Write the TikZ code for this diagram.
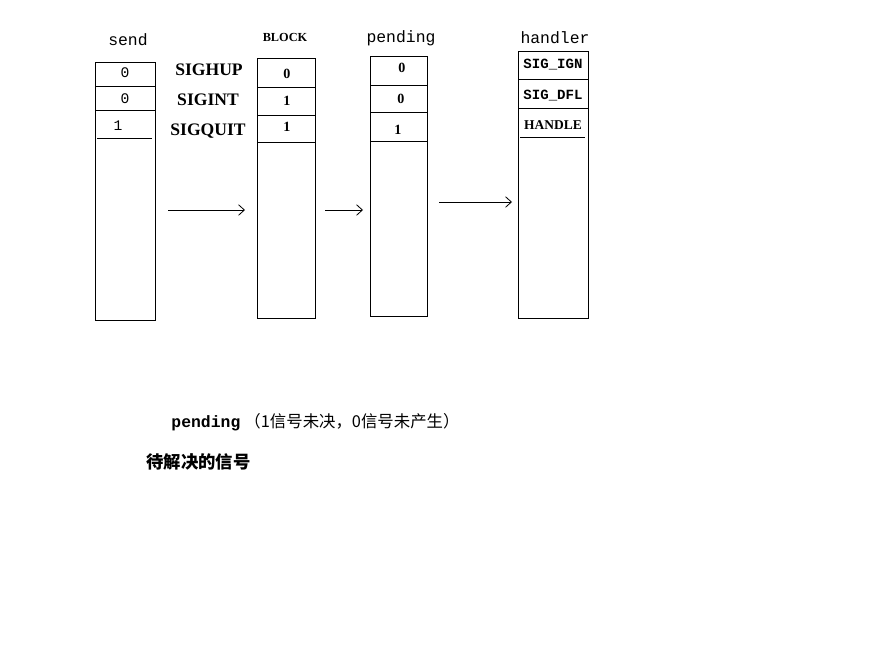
\documentclass[tikz,border=0pt]{standalone}
\usepackage{fontspec}
\setmainfont{Liberation Serif}
\setmonofont{Liberation Mono}
\newfontfamily\cjk{Noto Sans CJK SC}
\usepackage{tikz}
\usetikzlibrary{arrows.meta}
\definecolor{SigInk}{HTML}{000000}
\tikzset{
  cell/.style={inner sep=0pt,font=\ttfamily\fontsize{12.5}{13}\selectfont},
  boldcell/.style={inner sep=0pt,font=\bfseries\fontsize{12}{13}\selectfont},
  head/.style={inner sep=0pt,font=\ttfamily\fontsize{14}{15}\selectfont},
  signame/.style={inner sep=0pt,font=\bfseries\fontsize{15}{16}\selectfont},
  flow/.style={SigInk,line width=0.7pt,-{Straight Barb[length=5pt,width=9pt]}}
}

\begin{document}
\begin{tikzpicture}[x=0.03cm,y=-0.03cm,line width=0.8pt]
\path[use as bounding box] (0,0) rectangle (874,669);
% send
\node[head] (sendhead) at (128,40) {send};
\draw[SigInk] (95,62) rectangle (155,320);
\draw[SigInk] (95,86) -- (155,86);
\draw[SigInk] (95,110) -- (155,110);
\draw[SigInk] (97,138) -- (152,138);
\node[cell] (send1) at (125,73) {0};
\node[cell] (send2) at (125,99) {0};
\node[cell] (send3) at (118,126) {1};
% signal names
\node[signame] (sighup) at (209,70) {SIGHUP};
\node[signame] (sigint) at (208,100) {SIGINT};
\node[signame] (sigquit) at (208,131) {SIGQUIT};
% BLOCK
\node[boldcell,font=\bfseries\fontsize{10.5}{11}\selectfont] (blockhead) at (285,37) {BLOCK};
\draw[SigInk] (257,58) rectangle (315,318);
\draw[SigInk] (257,87) -- (315,87);
\draw[SigInk] (257,115) -- (315,115);
\draw[SigInk] (257,142) -- (315,142);
\node[boldcell] (block1) at (287,74) {0};
\node[boldcell] (block2) at (287,101) {1};
\node[boldcell] (block3) at (287,127) {1};
% pending
\node[head] (pendhead) at (401,38) {pending};
\draw[SigInk] (370,56) rectangle (427,316);
\draw[SigInk] (370,85) -- (427,85);
\draw[SigInk] (370,112) -- (427,112);
\draw[SigInk] (370,141) -- (427,141);
\node[boldcell] (pend1) at (402,68) {0};
\node[boldcell] (pend2) at (401,99) {0};
\node[boldcell] (pend3) at (398,130) {1};
% handler
\node[head] (handhead) at (555,38) {handler};
\draw[SigInk] (518,51) rectangle (588,318);
\draw[SigInk] (518,79) -- (588,79);
\draw[SigInk] (518,108) -- (588,108);
\draw[SigInk] (520,137) -- (585,137);
\node[boldcell,font=\bfseries\ttfamily\fontsize{12}{13}\selectfont] (ign) at (553,65) {SIG\_IGN};
\node[boldcell,font=\bfseries\ttfamily\fontsize{12}{13}\selectfont] (dfl) at (553,96) {SIG\_DFL};
\node[boldcell,font=\bfseries\fontsize{11.5}{12}\selectfont] (handle) at (553,125) {HANDLE};
% arrows
\coordinate (a1) at (168,210);
\coordinate (b1) at (245,210);
\coordinate (a2) at (325,210);
\coordinate (b2) at (363,210);
\coordinate (a3) at (439,202);
\coordinate (b3) at (512,202);
\draw[flow] (a1) -- (b1);
\draw[flow] (a2) -- (b2);
\draw[flow] (a3) -- (b3);
% notes
\node[anchor=west,inner sep=0pt,font=\fontsize{14}{15}\selectfont] (note) at (171,422) {\ttfamily\bfseries pending\rmfamily\mdseries\ {\cjk （1信号未决，0信号未产生）}};
\node[anchor=west,inner sep=0pt,font=\cjk\bfseries\fontsize{14.8}{15}\selectfont] (wait) at (146,462) {待解决的信号};
\end{tikzpicture}
\end{document}
